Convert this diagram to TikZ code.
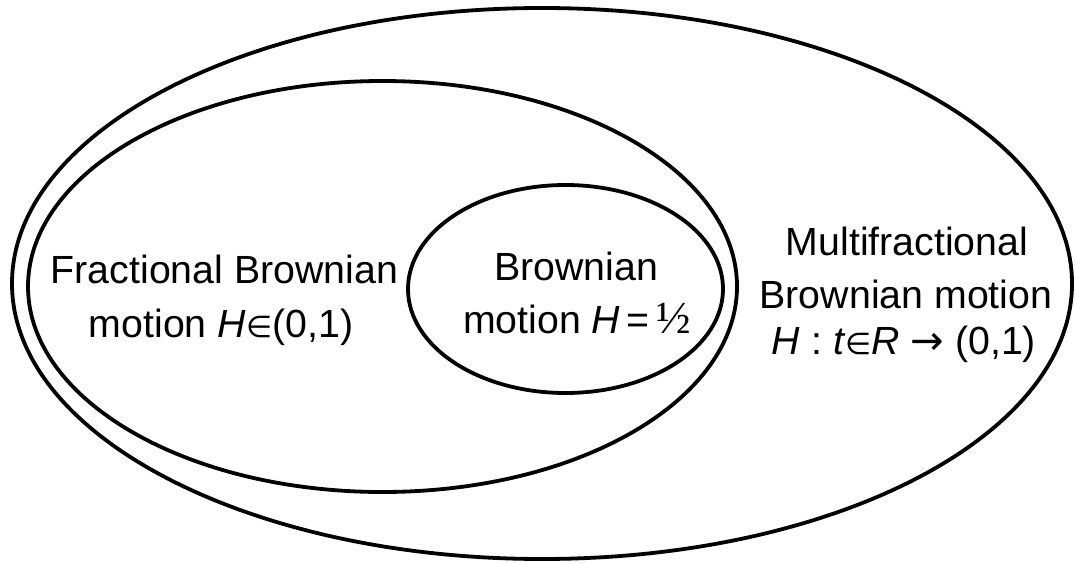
\documentclass[tikz,border=0pt]{standalone}
\usepackage{fontspec}
\setmainfont{Liberation Sans}
\newfontfamily\symfont{DejaVu Sans}
\newfontfamily\halffont{Liberation Serif}
\usetikzlibrary{shapes.geometric}
% small math glyphs set inside the sans labels
\newcommand\elemsym{{\fontsize{30}{30}\symfont ∈}}
\newcommand\arrowsym{{\fontsize{40}{40}\symfont →}}
\begin{document}
\begin{tikzpicture}[x=1pt,y=-1pt,
  ring/.style={draw, ellipse, line width=3.8pt, inner sep=0pt, outer sep=0pt},
  txt/.style={anchor=base, inner sep=0pt, font=\fontsize{39.3}{46}\selectfont}]
\useasboundingbox (0,0) rectangle (1075,562);

% nested classes of processes
\node[ring, minimum width=1060pt, minimum height=551pt] (mbm) at (542,283.5) {};
\node[ring, minimum width=709pt,  minimum height=411pt] (fbm) at (382.5,286.5) {};
\node[ring, minimum width=315pt,  minimum height=208pt] (bm)  at (565.5,289) {};

% fractional Brownian motion
\node[txt] (fbmA) at (224.5,283) {Fractional Brownian};
\node[txt] (fbmB) at (221,337) {motion \textit{H}\elemsym(0,1)};

% Brownian motion
\node[txt] (bmA) at (576,280) {Brownian};
\node[txt] (bmB) at (577,333) {motion \textit{H}\,=\,{\fontsize{46}{46}\halffont ½}};

% multifractional Brownian motion
\node[txt] (mbmA) at (907,255) {Multifractional};
\node[txt] (mbmB) at (906,308) {Brownian motion};
\node[txt] (mbmC) at (904,354) {\textit{H} : \textit{t}\elemsym\textit{R}\;\arrowsym\;(0,1)};
\end{tikzpicture}
\end{document}
